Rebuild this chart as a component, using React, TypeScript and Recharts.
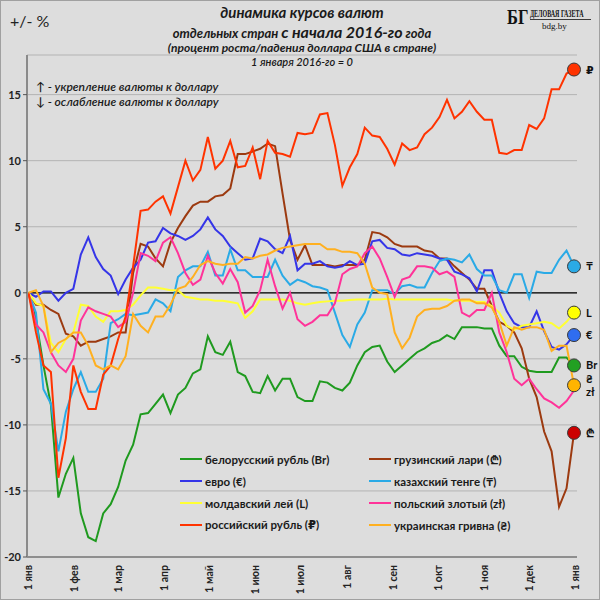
import React from "react";
import { LineChart, Line, XAxis, YAxis, CartesianGrid, ReferenceLine } from "recharts";

// day of year 2016 (0 = 1 Jan)
const days = [
  0, 5, 10, 15, 20, 25, 30, 35, 40, 45, 50, 55, 60, 65, 70, 75, 80, 85, 90, 95,
  100, 105, 110, 115, 120, 125, 130, 135, 140, 145, 150, 155, 160, 165, 170, 175, 180, 185, 190, 195,
  200, 205, 210, 215, 220, 225, 230, 235, 240, 245, 250, 255, 260, 265, 270, 275, 280, 285, 290, 295,
  300, 305, 310, 315, 320, 325, 330, 335, 340, 345, 350, 355, 360, 365,
];

const monthTicks = [0, 31, 60, 91, 121, 152, 182, 213, 244, 274, 305, 335, 366];
const monthLabels = ["1 янв", "1 фев", "1 мар", "1 апр", "1 май", "1 июн", "1 июл", "1 авг", "1 сен", "1 окт", "1 ноя", "1 дек", "1 янв"];
const yTicks = [-20, -15, -10, -5, 0, 5, 10, 15];

const byr = [
  0, -2.0, -5.5, -8.5, -15.5, -13.7, -12.5, -16.7, -18.5, -18.8, -16.7, -16.0, -14.7, -12.7, -11.5, -9.2, -9.1, -8.4, -7.7, -9.1,
  -7.7, -7.2, -6.1, -5.8, -3.3, -4.5, -4.7, -3.7, -6.0, -6.3, -7.5, -7.6, -6.3, -7.4, -6.5, -6.5, -7.9, -8.2, -8.2, -6.7,
  -6.8, -7.2, -7.4, -6.8, -5.5, -4.5, -4.1, -4.0, -5.2, -6.0, -5.5, -5.0, -4.5, -4.2, -3.8, -3.6, -3.2, -3.5, -2.6, -2.6,
  -2.6, -2.7, -2.7, -4.0, -4.8, -4.8, -5.6, -5.9, -6.0, -6.0, -6.0, -4.9, -4.9, -5.5,
];
const gel = [
  0, -0.9, -0.9, -1.3, -1.6, -3.1, -3.3, -4.0, -3.7, -3.7, -3.5, -3.3, -3.0, -3.0, 1.5, 3.7, 3.5, 2.6, 2.0, 3.8,
  4.9, 5.8, 6.6, 6.9, 6.9, 7.3, 7.4, 7.9, 10.5, 10.5, 10.7, 10.9, 11.3, 11.1, 7.5, 4.0, 2.5, 3.6, 2.1, 2.1,
  2.1, 2.0, 2.1, 2.1, 2.1, 2.5, 4.6, 4.5, 4.2, 3.7, 3.5, 3.5, 3.5, 3.2, 3.1, 2.6, 2.6, 2.0, 1.5, 1.0,
  0.3, 0.3, -1.0, -2.2, -2.5, -3.0, -4.2, -6.5, -7.9, -10.5, -12.0, -16.2, -14.8, -10.6,
];
const eur = [
  0, -0.3, 0.1, 0.1, -0.6, 0, 0.3, 2.9, 4.2, 2.7, 1.8, 1.3, -0.1, 1.0, 1.9, 2.5, 3.8, 3.9, 4.9, 4.5,
  4.3, 4.0, 4.3, 4.8, 5.7, 4.8, 4.3, 3.5, 3.0, 2.5, 2.6, 4.1, 3.9, 3.3, 3.0, 4.3, 1.7, 2.2, 2.2, 2.4,
  2.0, 1.9, 2.0, 2.4, 2.1, 2.2, 3.9, 4.0, 3.4, 3.3, 2.9, 2.8, 3.0, 2.9, 2.8, 2.6, 2.5, 1.6, 1.4, 1.1,
  0.1, 1.7, 1.7, 0, -1.4, -2.3, -2.6, -2.6, -1.4, -2.9, -4.1, -4.3, -3.9, -3.2,
];
const kzt = [
  0, -1.5, -7.3, -8.4, -12.0, -9.0, -7.3, -6.0, -7.5, -7.5, -6.5, -2.3, -2.0, -1.6, -1.7, -1.6, -1.5, -0.5, -0.8, -1.4,
  1.2, 1.7, 2.0, 2.0, 3.1, 1.3, 1.3, 3.3, 1.7, 1.7, 1.2, 1.2, 1.2, 2.5, 1.3, 0.6, 1.0, 0.8, 0.5, 0.4,
  0.2, -1.5, -3.2, -4.1, -2.4, -1.5, 0.2, 0.2, 0.2, -0.1, 0.5, 0.6, 0.4, 0.4, 1.5, 2.4, 2.6, 2.5, 2.3, 2.9,
  1.8, 1.3, 1.3, 0.2, 0.0, 1.4, 1.4, -0.4, 1.6, 1.5, 1.5, 2.5, 3.2, 2.0,
];
const mdl = [
  0, -0.8, -1.0, -3.8, -4.5, -3.5, -3.0, -0.9, -1.0, -1.8, -2.2, -1.4, -1.4, -1.3, -0.9, -0.2, 0.4, 0.4, 0.3, 0.2,
  0.2, -0.3, -0.4, -0.5, -0.5, -0.6, -0.6, -0.7, -0.8, -1.9, -1.4, -0.5, -0.5, -0.5, -0.5, -0.6, -0.8, -0.9, -0.8, -0.7,
  -0.65, -0.6, -0.6, -0.55, -0.5, -0.5, -0.5, -0.5, -0.45, -0.5, -0.5, -0.5, -0.5, -0.5, -0.5, -0.5, -0.5, -0.6, -0.6, -0.6,
  -0.7, -0.7, -1.0, -1.5, -2.5, -2.8, -2.5, -2.4, -2.3, -2.2, -2.3, -2.7, -2.2, -1.5,
];
const pln = [
  0, -2.4, -3.0, -4.5, -5.5, -6.0, -5.0, -2.1, -1.1, -1.4, -1.6, -1.8, -2.6, -2.2, 0, 3.0, 2.8, 2.4, 3.8, 4.2,
  3.0, 1.5, 0.6, 1.0, 2.8, 1.5, 0.7, 1.8, 0.8, -1.5, -1.0, 0.2, 2.5, 0.5, -1.2, 0.0, -2.0, -2.5, -2.2, -1.7,
  -1.7, -0.8, 1.4, 1.8, 2.0, 3.0, 3.5, 2.6, 1.2, -0.3, 1.0, 1.2, 2.0, 2.0, 1.9, 1.4, 1.6, 1.2, -1.5, -1.8,
  -1.3, -1.3, 0.0, -3.0, -4.5, -6.5, -7.0, -6.5, -7.3, -8.0, -8.3, -8.7, -8.2, -7.4,
];
const rub = [
  0, -3.0, -5.5, -6.0, -14.0, -11.0, -5.5, -7.5, -8.8, -8.8, -6.2, -5.5, -3.5, -1.8, 2.0, 6.2, 6.3, 6.9, 7.3, 6.0,
  8.0, 10.0, 8.5, 9.3, 11.8, 9.4, 10.0, 11.5, 9.5, 9.6, 11.0, 8.6, 11.5, 10.6, 10.5, 10.3, 12.1, 12.0, 12.1, 13.5,
  13.6, 11.2, 8.1, 9.5, 10.5, 12.5, 11.9, 11.8, 10.9, 9.7, 11.3, 10.8, 11.0, 12.0, 12.5, 13.3, 14.6, 13.2, 13.7, 14.5,
  13.7, 13.1, 13.1, 10.6, 10.5, 10.8, 10.8, 12.7, 12.4, 13.2, 15.4, 15.4, 16.6, 16.9,
];
const uah = [
  0, 0.2, -1.0, -4.5, -3.8, -3.5, -3.0, -3.0, -4.0, -5.5, -5.8, -5.5, -5.8, -4.8, -1.6, -2.5, -3.0, -1.8, -1.8, -0.9,
  0.3, 0.5, 1.2, 2.1, 2.4, 2.2, 2.1, 2.2, 2.2, 2.7, 2.6, 2.8, 2.9, 3.2, 3.4, 3.5, 3.6, 3.7, 3.7, 3.7,
  3.3, 3.3, 3.1, 3.1, 3.0, 2.2, 0.4, 0.0, -0.1, -3.0, -4.2, -3.4, -1.8, -1.3, -1.2, -1.2, -1.0, -0.6, -0.5, -0.5,
  -0.8, -0.8, -1.1, -2.2, -4.0, -2.6, -2.8, -2.6, -2.6, -2.8, -4.4, -4.0, -4.0, -7.0,
];

const series = [
  { key: "byr", name: "белорусский рубль (Br)", color: "#1f9a1f", marker: "#22a022", sign: "Br", values: byr },
  { key: "gel", name: "грузинский лари (₾)", color: "#9c3a10", marker: "#cc0000", sign: "₾", values: gel },
  { key: "eur", name: "евро (€)", color: "#3535e8", marker: "#2f6df0", sign: "€", values: eur },
  { key: "kzt", name: "казахский тенге (₸)", color: "#2aaae6", marker: "#2aaae6", sign: "₸", values: kzt },
  { key: "mdl", name: "молдавский лей (L)", color: "#ffff33", marker: "#ffff00", sign: "L", values: mdl },
  { key: "pln", name: "польский злотый (zł)", color: "#ff3399", marker: "", sign: "zł", values: pln },
  { key: "rub", name: "российский рубль (₽)", color: "#ff3300", marker: "#ff3300", sign: "₽", values: rub },
  { key: "uah", name: "украинская гривна (₴)", color: "#ffb020", marker: "#ffb400", sign: "₴", values: uah },
];

const data = days.map((day, i) => {
  const row: Record<string, number> = { day };
  series.forEach((s) => {
    row[s.key] = s.values[i];
  });
  return row;
});

const FONT = "Lato, 'Open Sans', 'DejaVu Sans', sans-serif";
const SERIF = "'Liberation Serif', 'DejaVu Serif', serif";
const last = days.length - 1;

const XTick = (props: any) => {
  const { x, y, payload } = props;
  const label = monthLabels[monthTicks.indexOf(payload.value)];
  return (
    <text
      x={x}
      y={y}
      transform={`rotate(-90, ${x}, ${y})`}
      textAnchor="end"
      dy="0.35em"
      fontSize={10.5}
      fontWeight={700}
      fill="#222"
      fontFamily={FONT}
    >
      {label}
    </text>
  );
};

// marker + currency sign at the end of each line
const endDot = (s: (typeof series)[number]) => (props: any) => {
  const { cx, cy, index } = props;
  if (index !== last) return <g key={`${s.key}-d${index}`} />;
  const dy = s.key === "uah" ? -2 : s.key === "pln" ? 5 : 4;
  return (
    <g key={`${s.key}-end`}>
      {s.marker && <circle cx={cx} cy={cy} r={6.5} fill={s.marker} stroke="#3a3a3a" strokeWidth={1} />}
      <text x={cx + 12} y={cy + dy} fontSize={11} fontWeight={700} fill="#111" fontFamily={FONT}>
        {s.sign}
      </text>
    </g>
  );
};

export default function App() {
  return (
    <div
      style={{
        position: "absolute",
        left: 0,
        top: 0,
        width: 600,
        height: 600,
        boxSizing: "border-box",
        border: "1px solid #a0a0a0",
        background: "#dddddd",
        fontFamily: FONT,
      }}
    >
      <LineChart width={598} height={598} data={data} margin={{ top: 54, right: 22, bottom: 4, left: 6 }}>
        <CartesianGrid horizontal vertical={false} stroke="#b3b3b3" />
        <XAxis
          dataKey="day"
          type="number"
          domain={[-1, 367]}
          ticks={monthTicks}
          tick={<XTick />}
          tickLine={false}
          axisLine={{ stroke: "#555" }}
          height={38}
          interval={0}
        />
        <YAxis
          type="number"
          domain={[-20, 18]}
          ticks={yTicks}
          width={20}
          interval={0}
          tick={{ fontSize: 11, fontWeight: 700, fill: "#222", fontFamily: FONT }}
          tickSize={4}
          tickLine={{ stroke: "#555" }}
          axisLine={{ stroke: "#8a8a8a", strokeWidth: 2 }}
        />
        <ReferenceLine y={0} stroke="#000" strokeWidth={1.2} />
        {series.map((s) => (
          <Line
            key={s.key}
            dataKey={s.key}
            type="linear"
            stroke={s.color}
            strokeWidth={2}
            dot={endDot(s)}
            activeDot={false}
            isAnimationActive={false}
          />
        ))}
      </LineChart>

      {/* titles, notes, logo */}
      <svg width={598} height={120} style={{ position: "absolute", left: 0, top: 0, pointerEvents: "none" }}>
        <text x={9} y={26} fontSize={16} fill="#222" fontFamily={FONT}>+/- %</text>
        <g fontFamily={FONT} fontStyle="italic" fontWeight={700} fill="#1a1a1a" textAnchor="middle">
          <text x={301} y={17} fontSize={15}>динамика  курсов валют</text>
          <text x={301} y={37}>
            <tspan fontSize={13}>отдельных стран </tspan>
            <tspan fontSize={16}>с начала 2016-го</tspan>
            <tspan fontSize={13}> года</tspan>
          </text>
          <text x={301} y={51} fontSize={12}>(процент роста/падения доллара США в стране)</text>
          <text x={301} y={65} fontSize={11} fontWeight={600}>1 января 2016-го = 0</text>
        </g>
        <g fontFamily={FONT} fontStyle="italic" fontWeight={600} fontSize={12} fill="#1a1a1a">
          <text x={35} y={90}>↑ - укрепление валюты к доллару</text>
          <text x={35} y={105}>↓ - ослабление валюты к доллару</text>
        </g>
        <g fontFamily={SERIF} fill="#111" fontWeight={700}>
          <text transform="translate(506,23) scale(0.75,1)" fontSize={22}>БГ</text>
          <text transform="translate(529,16) scale(0.6,1)" fontSize={10}>ДЕЛОВАЯ ГАЗЕТА</text>
          <line x1={529} y1={18.5} x2={590} y2={18.5} stroke="#111" strokeWidth={0.8} />
          <text x={541} y={28} fontSize={9} fontWeight={400}>bdg.by</text>
        </g>
      </svg>

      {/* legend */}
      <div
        style={{
          position: "absolute",
          left: 179,
          top: 447,
          display: "grid",
          gridTemplateColumns: "189px 200px",
          fontSize: 11.5,
          fontWeight: 700,
          color: "#1a1a1a",
          fontFamily: FONT,
        }}
      >
        {series.map((s) => (
          <div key={s.key} style={{ display: "flex", alignItems: "center", height: 22, whiteSpace: "nowrap" }}>
            <span style={{ display: "inline-block", width: 22, height: 2, background: s.color, marginRight: 3 }} />
            <span>{s.name}</span>
          </div>
        ))}
      </div>
    </div>
  );
}
